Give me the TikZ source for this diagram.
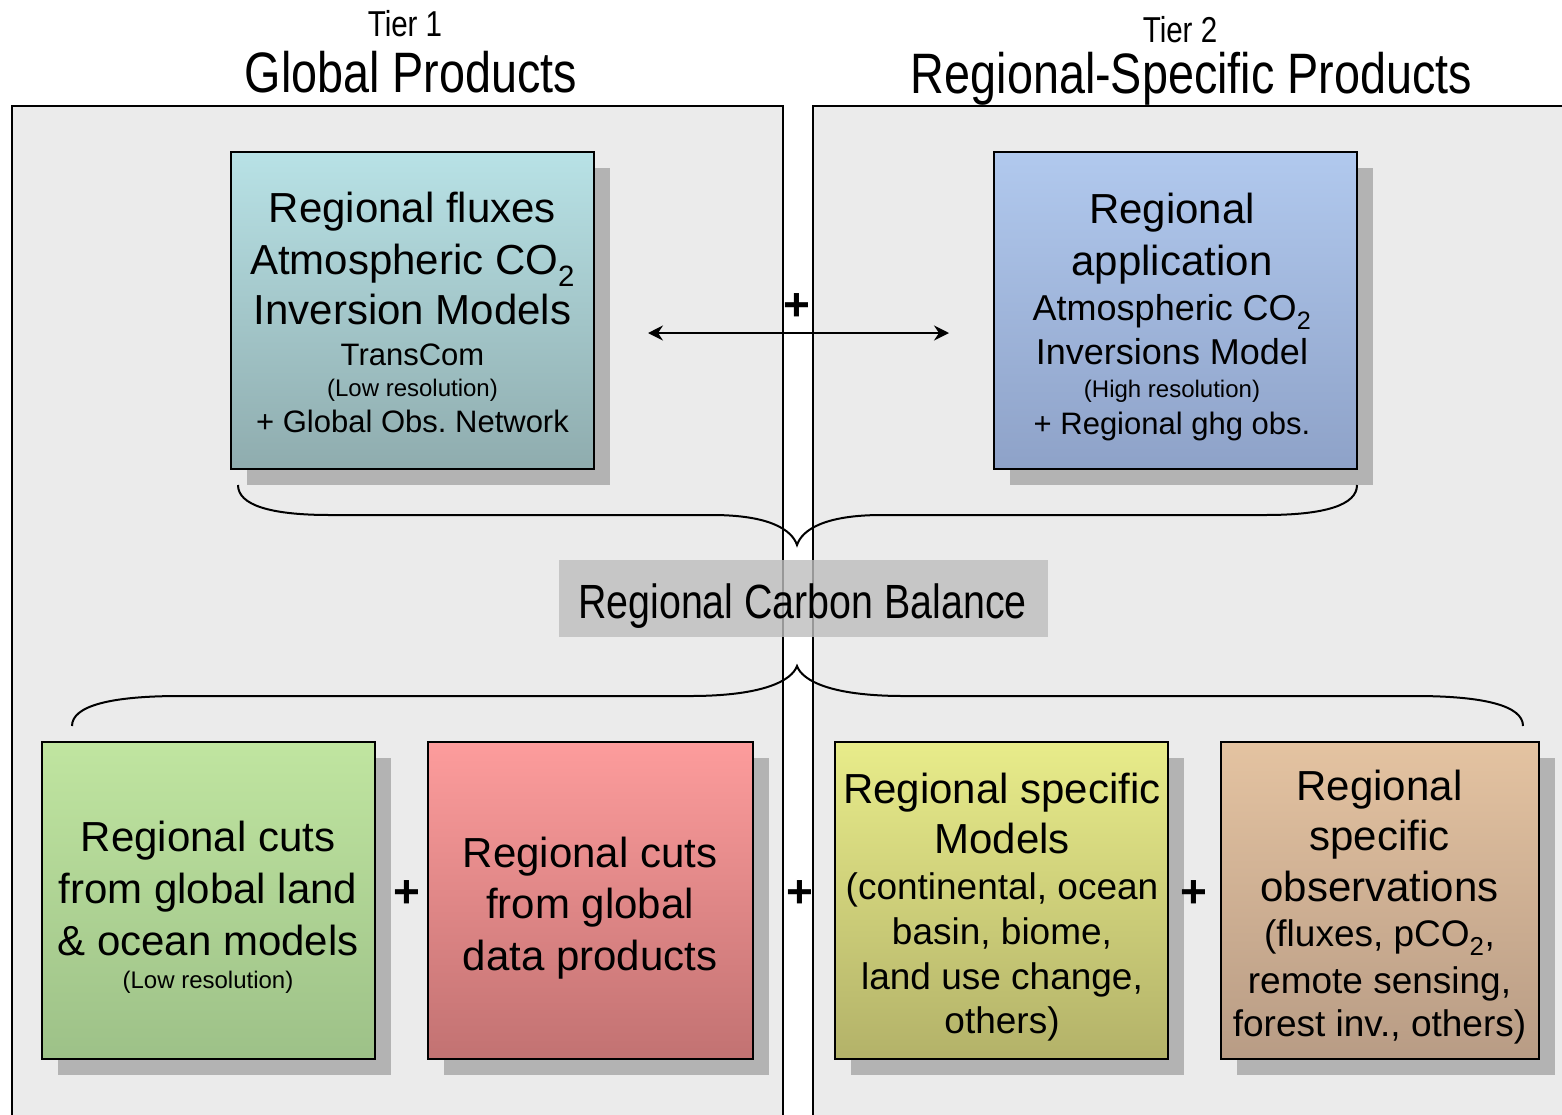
\documentclass[tikz,border=0pt]{standalone}
\usepackage{fontspec}
\setmainfont{Liberation Sans}
\newfontfamily\narrowfont[FakeStretch=0.82]{Liberation Sans}
\usetikzlibrary{arrows.meta,shadows}
\definecolor{panelgray}{HTML}{EBEBEB}
\definecolor{shadowgray}{HTML}{B3B3B3}
\definecolor{rcbgray}{HTML}{BDBDBD}
\definecolor{tealtop}{HTML}{B8E2E6}
\definecolor{tealbot}{HTML}{8FACAE}
\definecolor{bluetop}{HTML}{B1C9EE}
\definecolor{bluebot}{HTML}{8EA2C8}
\definecolor{greentop}{HTML}{C0E5A0}
\definecolor{greenbot}{HTML}{9DC188}
\definecolor{redtop}{HTML}{FD9C9C}
\definecolor{redbot}{HTML}{C27272}
\definecolor{yellowtop}{HTML}{E8EC8A}
\definecolor{yellowbot}{HTML}{B3B269}
\definecolor{tantop}{HTML}{E4C3A1}
\definecolor{tanbot}{HTML}{B89C85}
\newcommand\boxline[3]{{\fontsize{#1}{#2}\selectfont #3\par}}
\frenchspacing
\begin{document}
\begin{tikzpicture}[x=1pt,y=-1pt,
  panel/.style={draw=black,line width=2pt,fill=panelgray},
  prodbox/.style={draw=black,line width=1.6pt,inner sep=0pt,
     drop shadow={shadow xshift=16pt,shadow yshift=-16pt,fill=shadowgray,opacity=1}},
  bigbox/.style={prodbox,minimum width=363pt,minimum height=317pt},
  smallbox/.style={prodbox,minimum height=317pt},
  boxtext/.style={text width=420pt,align=flush center,inner sep=0pt},
  brace/.style={line width=2pt},
  plussign/.style={font=\bfseries\fontsize{46}{46}\selectfont,inner sep=0pt,anchor=base},
  tiertext/.style={font=\narrowfont\fontsize{36}{36}\selectfont,inner sep=0pt,anchor=base},
  headtext/.style={font=\narrowfont\fontsize{57}{57}\selectfont,inner sep=0pt,anchor=base},
  arrowtip/.style={line width=2pt,{Stealth[length=15pt,width=15pt,inset=5pt]}-{Stealth[length=15pt,width=15pt,inset=5pt]}}
]
\useasboundingbox (0,0) rectangle (1562,1114);
\clip (0,0) rectangle (1562,1114);
\fill[white] (0,0) rectangle (1562,1114);

% headers
\node[tiertext] (tier1) at (405,36) {Tier 1};
\node[headtext] (head1) at (411,92) {Global Products};
\node[tiertext] (tier2) at (1180,42) {Tier 2};
\node[headtext] (head2) at (1191.5,93) {Regional-Specific Products};

% panels
\draw[panel] (12,106) rectangle (783,1140);
\draw[panel] (813,106) rectangle (1580,1140);

% top boxes
\node[bigbox,top color=tealtop,bottom color=tealbot] (b1) at (412.5,310.5) {};
\node[boxtext] (t1) at (412.5,312.9) {%
\boxline{42}{50}{Regional fluxes}
\boxline{42}{52}{Atmospheric CO\textsubscript{2}}
\boxline{42}{50}{Inversion Models}
\boxline{31}{41}{TransCom}
\boxline{24}{31}{(Low resolution)}
\boxline{31}{36}{+ Global Obs. Network}};

\node[bigbox,top color=bluetop,bottom color=bluebot] (b2) at (1175.5,310.5) {};
\node[boxtext] (t2) at (1172,316.5) {%
\boxline{42}{50}{Regional}
\boxline{42}{52}{application}
\boxline{36}{45}{Atmospheric CO\textsubscript{2}}
\boxline{36}{44}{Inversions Model}
\boxline{24}{33}{(High resolution)}
\boxline{31}{37}{+ Regional ghg obs.}};

% arrow and plus
\coordinate (arrL) at (648,333);
\coordinate (arrR) at (949,333);
\draw[arrowtip] (arrL) -- (arrR);
\node[plussign] (ptop) at (797,320) {+};

% top brace
\draw[brace] (238,485) .. controls (238,505) and (270,515) .. (330,515) -- (712,515)
  .. controls (770,515) and (792,530) .. (797,545)
  .. controls (802,530) and (824,515) .. (882,515) -- (1265,515)
  .. controls (1325,515) and (1357,505) .. (1357,485);

% regional carbon balance
\node[fill=rcbgray,fill opacity=0.8,text opacity=1,minimum width=489pt,minimum height=77pt,inner sep=0pt] (rcb) at (803.5,598.5) {};
\node[font=\narrowfont\fontsize{48}{48}\selectfont,inner sep=0pt,anchor=base] (rcbtext) at (802.5,618) {Regional Carbon Balance};

% bottom brace
\draw[brace] (72,726) .. controls (72,706) and (110,696) .. (180,696) -- (690,696)
  .. controls (765,696) and (792,680) .. (797,666)
  .. controls (802,680) and (829,696) .. (904,696) -- (1415,696)
  .. controls (1485,696) and (1523,706) .. (1523,726);

% bottom boxes
\node[smallbox,minimum width=333pt,top color=greentop,bottom color=greenbot] (b3) at (208.5,900.5) {};
\node[boxtext] (t3) at (208,907) {%
\boxline{42}{50}{Regional cuts}
\boxline{42}{52}{from global land}
\boxline{42}{52}{\& ocean models}
\boxline{24}{33}{(Low resolution)}};

\node[smallbox,minimum width=325pt,top color=redtop,bottom color=redbot] (b4) at (590.5,900.5) {};
\node[boxtext] (t4) at (590,907.8) {%
\boxline{42}{50}{Regional cuts}
\boxline{42}{51}{from global}
\boxline{42}{52}{data products}};

\node[smallbox,minimum width=333pt,top color=yellowtop,bottom color=yellowbot] (b5) at (1001.5,900.5) {};
\node[boxtext] (t5) at (1002,906.6) {%
\boxline{42}{50}{Regional specific}
\boxline{42}{50}{Models}
\boxline{37}{46}{(continental, ocean}
\boxline{37}{45}{basin, biome,}
\boxline{37}{45}{land use change,}
\boxline{37}{44}{others)}};

\node[smallbox,minimum width=318pt,top color=tantop,bottom color=tanbot] (b6) at (1380,900.5) {};
\node[boxtext] (t6) at (1379.5,906.6) {%
\boxline{42}{50}{Regional}
\boxline{42}{50}{specific}
\boxline{42}{51}{observations}
\boxline{37}{45}{(fluxes, pCO\textsubscript{2},}
\boxline{37}{47}{remote sensing,}
\boxline{37}{43}{forest inv., others)}};

% plus signs
\node[plussign] (p1) at (407,907) {+};
\node[plussign] (p2) at (800,907) {+};
\node[plussign] (p3) at (1194,907) {+};
\end{tikzpicture}
\end{document}
